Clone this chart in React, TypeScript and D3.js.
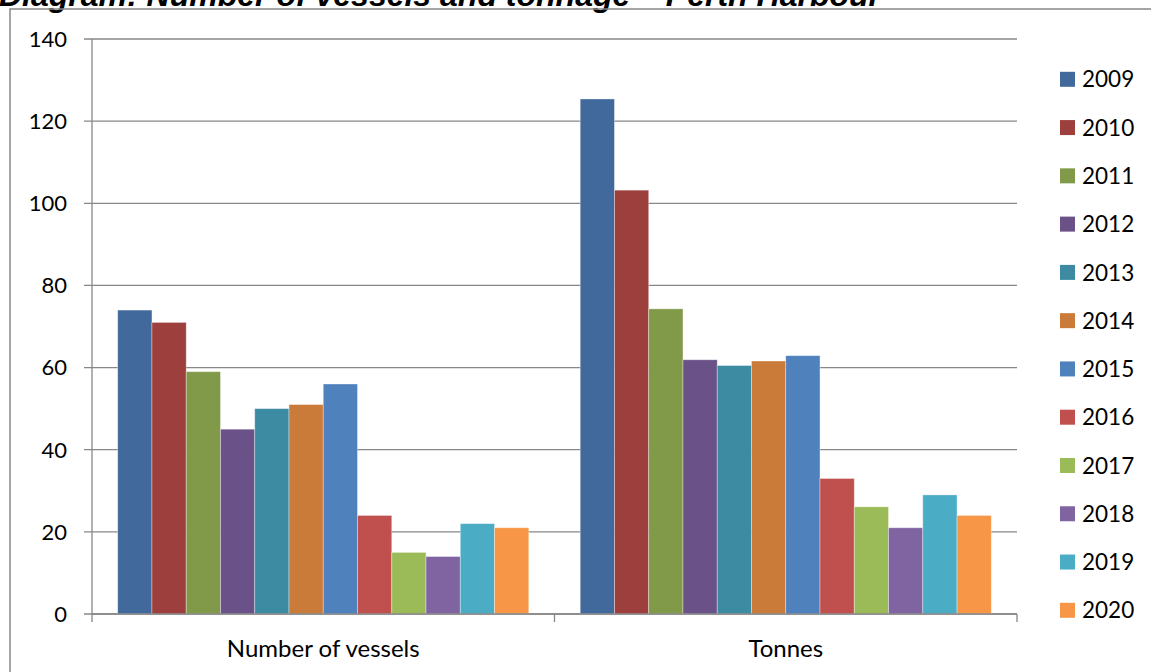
import React from "react";
import * as d3 from "d3";

const categories = ["Number of vessels", "Tonnes"];
const years = ["2009", "2010", "2011", "2012", "2013", "2014", "2015", "2016", "2017", "2018", "2019", "2020"];
const vesselsValues = [74, 71, 59, 45, 50, 51, 56, 24, 15, 14, 22, 21];
const tonnesValues = [125.4, 103.2, 74.3, 61.9, 60.5, 61.6, 62.9, 33, 26.1, 21, 29, 24];
const yearColors = [
  "#41699C", "#9D403D", "#809A4A", "#6A5187", "#3D8BA2", "#CB7B39",
  "#4F81BD", "#C0504D", "#9BBB59", "#8064A2", "#4BACC6", "#F79646",
];
const yTicks = [0, 20, 40, 60, 80, 100, 120, 140];
const title = "Diagram: Number of vessels and tonnage \u2013 Perth Harbour";

const W = 1151;
const H = 672;
const plot = { left: 92, right: 1017, top: 39, bottom: 614 };
const FONT = "Lato, 'Open Sans', sans-serif";

export default function App() {
  const seriesByCat = [vesselsValues, tonnesValues];
  const x0 = d3
    .scaleBand<string>()
    .domain(categories)
    .range([plot.left, plot.right])
    .paddingInner(0)
    .paddingOuter(0);
  const groupPad = x0.bandwidth() * (25.7 / 462.5);
  const x1 = d3
    .scaleBand<string>()
    .domain(years)
    .range([groupPad, x0.bandwidth() - groupPad])
    .padding(0);
  const y = d3.scaleLinear().domain([0, 140]).range([plot.bottom, plot.top]);
  const legendY = d3
    .scalePoint<string>()
    .domain(years)
    .range([79.3, 610.3]);

  const boundaryTicks = [plot.left, ...categories.map((c) => (x0(c) as number) + x0.bandwidth())];

  return (
    <svg
      width={W}
      height={H}
      style={{ position: "absolute", left: 0, top: 0, background: "#fff" }}
    >
      <text
        x={-1}
        y={6}
        fontFamily="'Liberation Sans', Arial, sans-serif"
        fontWeight="bold"
        fontStyle="italic"
        fontSize={32}
        fill="#000"
      >
        {title}
      </text>
      <rect x={10} y={9} width={1300} height={800} fill="none" stroke="#888" strokeWidth={1.5} />

      {/* gridlines */}
      {yTicks.map((t) => (
        <g key={"g" + t}>
          <line
            x1={plot.left - 8}
            x2={plot.right}
            y1={y(t)}
            y2={y(t)}
            stroke="#878787"
            strokeWidth={1.3}
          />
          <text
            x={67}
            y={y(t)}
            dy="0.36em"
            textAnchor="end"
            fontFamily={FONT}
            fontSize={22}
            fill="#000"
          >
            {t}
          </text>
        </g>
      ))}

      {/* bars */}
      {categories.map((c, ci) => (
        <g key={c} transform={`translate(${x0(c)},0)`}>
          {years.map((yr, i) => {
            const v = seriesByCat[ci][i];
            return (
              <rect
                key={yr}
                x={x1(yr) as number}
                y={y(v)}
                width={x1.bandwidth()}
                height={y(0) - y(v)}
                fill={yearColors[i]}
                stroke="rgba(255,255,255,0.45)"
                strokeWidth={0.8}
              />
            );
          })}
        </g>
      ))}

      {/* axes */}
      <line x1={plot.left} x2={plot.left} y1={plot.top} y2={plot.bottom} stroke="#878787" strokeWidth={1.3} />
      <line x1={plot.left} x2={plot.right} y1={plot.bottom} y2={plot.bottom} stroke="#878787" strokeWidth={1.3} />
      {boundaryTicks.map((bx, i) => (
        <line key={"bt" + i} x1={bx} x2={bx} y1={plot.bottom} y2={plot.bottom + 8} stroke="#878787" strokeWidth={1.3} />
      ))}

      {categories.map((c) => (
        <text
          key={"cl" + c}
          x={(x0(c) as number) + x0.bandwidth() / 2}
          y={657}
          textAnchor="middle"
          fontFamily={FONT}
          fontSize={24}
          fill="#000"
        >
          {c}
        </text>
      ))}

      {/* legend */}
      {years.map((yr, i) => (
        <g key={"l" + yr} transform={`translate(1060,${legendY(yr)})`}>
          <rect x={0} y={-7.5} width={15} height={15} fill={yearColors[i]} />
          <text x={22} y={0} dy="0.36em" fontFamily={FONT} fontSize={22.5} fill="#000">
            {yr}
          </text>
        </g>
      ))}
    </svg>
  );
}
